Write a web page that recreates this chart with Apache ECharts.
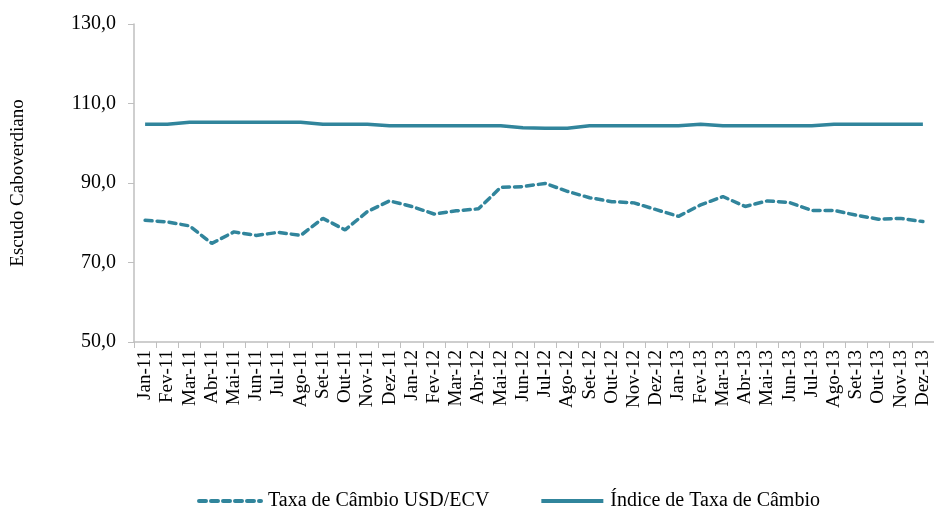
<!DOCTYPE html>
<html lang="pt">
<head>
<meta charset="utf-8" />
<title>Taxa de Câmbio</title>
<script src="https://cdn.jsdelivr.net/npm/echarts@6/dist/echarts.min.js"></script>
<style>
  html, body { margin: 0; padding: 0; background: #fff; }
  #main { width: 934px; height: 507px; }
</style>
</head>
<body>
<div id="main"></div>
<script>
// meses (eixo x)
var meses = [
  'Jan-11','Fev-11','Mar-11','Abr-11','Mai-11','Jun-11','Jul-11','Ago-11','Set-11','Out-11','Nov-11','Dez-11',
  'Jan-12','Fev-12','Mar-12','Abr-12','Mai-12','Jun-12','Jul-12','Ago-12','Set-12','Out-12','Nov-12','Dez-12',
  'Jan-13','Fev-13','Mar-13','Abr-13','Mai-13','Jun-13','Jul-13','Ago-13','Set-13','Out-13','Nov-13','Dez-13'
];
// Taxa de Câmbio USD/ECV
var taxaUsd = [
  80.6, 80.2, 79.2, 74.8, 77.7, 76.8, 77.6, 76.8, 81.1, 78.2, 82.8, 85.5,
  84.1, 82.2, 83.0, 83.5, 88.9, 89.1, 89.9, 87.9, 86.3, 85.3, 85.0, 83.3,
  81.6, 84.5, 86.6, 84.1, 85.5, 85.1, 83.1, 83.1, 81.9, 80.9, 81.1, 80.3
];
// Índice de Taxa de Câmbio
var indiceTaxa = [
  104.8, 104.8, 105.3, 105.3, 105.3, 105.3, 105.3, 105.3, 104.8, 104.8, 104.8, 104.4,
  104.4, 104.4, 104.4, 104.4, 104.4, 103.9, 103.8, 103.8, 104.4, 104.4, 104.4, 104.4,
  104.4, 104.8, 104.4, 104.4, 104.4, 104.4, 104.4, 104.8, 104.8, 104.8, 104.8, 104.8
];
var nomes = ['Taxa de Câmbio USD/ECV', 'Índice de Taxa de Câmbio'];

var cor = '#31859C';
var fonte = 'Liberation Serif';
var chart = echarts.init(document.getElementById('main'));

chart.setOption({
  animation: false,
  textStyle: { fontFamily: fonte, color: '#000' },
  grid: { left: 134, top: 24, width: 801, bottom: 165, containLabel: false },
  legend: {
    top: 486,
    left: 192,
    itemWidth: 62,
    itemHeight: 20,
    itemGap: 50,
    itemStyle: { opacity: 0 },
    lineStyle: { width: 4 },
    textStyle: { fontFamily: fonte, fontSize: 20, color: '#000', padding: [0, 0, 0, 2] },
    data: nomes
  },
  xAxis: {
    type: 'category',
    data: meses,
    boundaryGap: true,
    axisLine: { lineStyle: { color: '#BFBFBF', width: 1.5 } },
    axisTick: { show: true, length: 6, interval: 0, lineStyle: { color: '#BFBFBF' } },
    axisLabel: { rotate: 90, interval: 0, margin: 8, fontFamily: fonte, fontSize: 19, color: '#000' },
    splitLine: { show: false }
  },
  yAxis: {
    type: 'value',
    min: 50, max: 130, interval: 20,
    name: 'Escudo Caboverdiano',
    nameLocation: 'middle',
    nameGap: 106,
    nameRotate: 90,
    nameTextStyle: { fontFamily: fonte, fontSize: 19, color: '#000' },
    axisLine: { show: true, lineStyle: { color: '#BFBFBF', width: 1.5 } },
    axisTick: { show: true, length: 6, lineStyle: { color: '#BFBFBF' } },
    axisLabel: {
      margin: 18, fontFamily: fonte, fontSize: 20, color: '#000',
      formatter: function (v) { return v.toFixed(1).replace('.', ','); }
    },
    splitLine: { show: false }
  },
  series: [
    {
      name: nomes[0],
      type: 'line',
      data: taxaUsd,
      symbol: 'none',
      itemStyle: { color: cor },
      lineStyle: { color: cor, width: 3.5, type: [7, 5], cap: 'round' }
    },
    {
      name: nomes[1],
      type: 'line',
      data: indiceTaxa,
      symbol: 'none',
      itemStyle: { color: cor },
      lineStyle: { color: cor, width: 3.5, type: 'solid' }
    }
  ]
});
</script>
</body>
</html>
